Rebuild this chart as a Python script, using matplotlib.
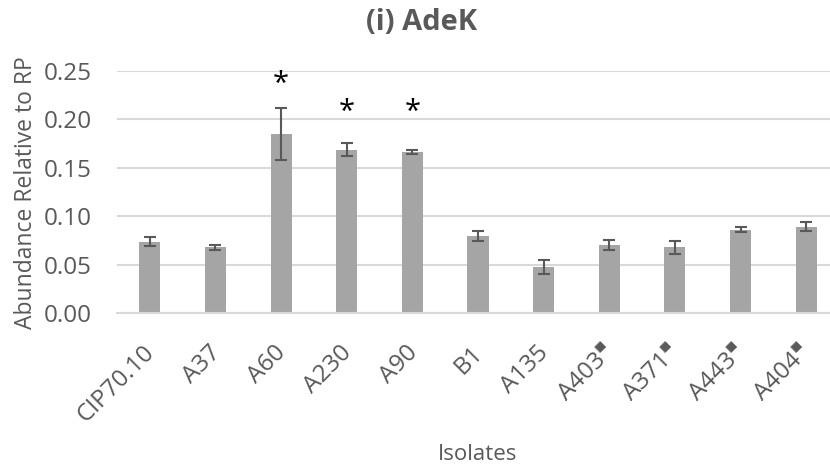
import matplotlib.pyplot as plt
import matplotlib.transforms as mtransforms

# data
isolates = ['CIP70.10', 'A37', 'A60', 'A230', 'A90', 'B1', 'A135',
            'A403$^{▪}$', 'A371$^{▪}$', 'A443$^{▪}$', 'A404$^{▪}$']
abundance = [0.074, 0.068, 0.185, 0.169, 0.166, 0.080, 0.048, 0.0705, 0.068, 0.086, 0.0895]
errors = [0.005, 0.0024, 0.0265, 0.007, 0.002, 0.005, 0.007, 0.0055, 0.007, 0.0026, 0.0046]
star_idx = [2, 3, 4]
star_y = [0.236, 0.207, 0.207]

plt.rcParams['font.family'] = ['Open Sans', 'DejaVu Sans']
text_col = '#595959'

fig = plt.figure(figsize=(8.3, 4.66), dpi=100)
ax = fig.add_axes([117 / 830, 1 - 313.3 / 466, 722 / 830, (313.3 - 71) / 466])

x = list(range(len(isolates)))
ax.bar(x, abundance, width=0.32, color='#A5A5A5', zorder=2)
ax.errorbar(x, abundance, yerr=errors, fmt='none', ecolor=text_col,
            elinewidth=1.5, capsize=4, capthick=1.5, zorder=3)

for i, y in zip(star_idx, star_y):
    ax.text(i, y, '*', ha='center', va='center', fontsize=21, color='black')

ax.set_xlim(-0.5, len(isolates) - 0.5)
ax.set_ylim(0, 0.25)
ax.set_yticks([0, 0.05, 0.10, 0.15, 0.20, 0.25])
ax.set_yticklabels(['0.00', '0.05', '0.10', '0.15', '0.20', '0.25'])
ax.yaxis.grid(True, color='#D9D9D9', linewidth=1.5, zorder=0)
ax.set_axisbelow(True)
for s in ['top', 'right', 'left']:
    ax.spines[s].set_visible(False)
ax.spines['bottom'].set_color('#D9D9D9')
ax.spines['bottom'].set_linewidth(1.5)
ax.tick_params(length=0, labelsize=17.5, colors=text_col)
ax.tick_params(axis='y', pad=18)
ax.tick_params(axis='x', pad=20)
ax.set_xticks(x)
ax.set_xticklabels(isolates, rotation=45, ha='right', rotation_mode='anchor')
shift = mtransforms.ScaledTranslation(-7 / 100, 0, fig.dpi_scale_trans)
for lbl in ax.get_xticklabels():
    lbl.set_transform(lbl.get_transform() + shift)

ax.set_ylabel('Abundance Relative to RP', fontsize=16.5, color=text_col, labelpad=4)
ax.set_xlabel('Isolates', fontsize=16, color=text_col, labelpad=12)
fig.text(422 / 830, 1 - 22 / 466, '(i) AdeK', ha='center', va='center',
         fontsize=21, fontweight='bold', color=text_col)

plt.savefig('out.png', dpi=100)
